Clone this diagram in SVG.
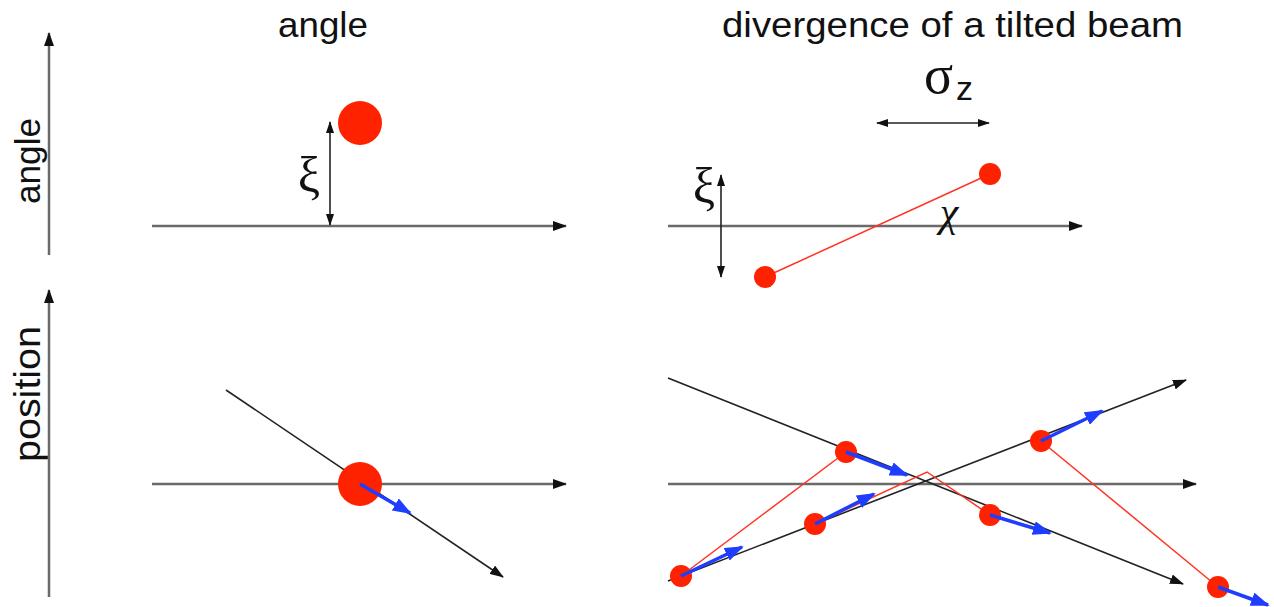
<svg xmlns="http://www.w3.org/2000/svg" width="1274" height="607" viewBox="0 0 1274 607">
<style>
text{font-family:"Liberation Sans",Arial,sans-serif;fill:#111}
.sym{font-family:"Liberation Serif","DejaVu Serif",serif;fill:#111}
.axis{stroke:#6a6a6a;stroke-width:2.5;fill:none}
.ray{stroke:#222;stroke-width:1.6;fill:none}
.dim{stroke:#222;stroke-width:1.6;fill:none}
.red{stroke:#ff3322;stroke-width:1.5;fill:none}
.blue{stroke:#1f3dff;stroke-width:3.5;fill:none}
.dot{fill:#ff2200}
</style>
<defs>
<marker id="ah" viewBox="0 0 14 10" refX="13" refY="5" markerWidth="14" markerHeight="10" markerUnits="userSpaceOnUse" orient="auto-start-reverse"><path d="M0,0 L14,5 L0,10 Z" fill="#111"/></marker>
<marker id="ahs" viewBox="0 0 12 8" refX="11" refY="4" markerWidth="12" markerHeight="8" markerUnits="userSpaceOnUse" orient="auto-start-reverse"><path d="M0,0 L12,4 L0,8 Z" fill="#111"/></marker>
<marker id="ab" viewBox="0 0 19 14" refX="17" refY="7" markerWidth="19" markerHeight="14" markerUnits="userSpaceOnUse" orient="auto"><path d="M0,0 L19,7 L0,14 Z" fill="#1f3dff"/></marker>
</defs>

<g id="labels">
<text x="323" y="37" font-size="35" text-anchor="middle" textLength="90" lengthAdjust="spacingAndGlyphs">angle</text>
<text x="722" y="37" font-size="35" textLength="461" lengthAdjust="spacingAndGlyphs">divergence of a tilted beam</text>
<text transform="translate(40,161) rotate(-90)" font-size="35" text-anchor="middle" textLength="86" lengthAdjust="spacingAndGlyphs">angle</text>
<text transform="translate(40,394) rotate(-90)" font-size="36" text-anchor="middle" textLength="136" lengthAdjust="spacingAndGlyphs">position</text>
</g>

<g id="connectors">
<line class="axis" x1="49" y1="255" x2="49" y2="33" marker-end="url(#ah)"/>
<line class="axis" x1="49" y1="597" x2="49" y2="290" marker-end="url(#ah)"/>
<line class="axis" x1="152" y1="226" x2="566" y2="226" marker-end="url(#ah)"/>
<line class="axis" x1="152" y1="484" x2="566" y2="484" marker-end="url(#ah)"/>
<line class="axis" x1="668" y1="226" x2="1082" y2="226" marker-end="url(#ah)"/>
<line class="axis" x1="668" y1="484" x2="1196" y2="484" marker-end="url(#ah)"/>
<line class="dim" x1="330" y1="225" x2="330" y2="122" marker-start="url(#ahs)" marker-end="url(#ahs)"/>
<line class="dim" x1="721" y1="175" x2="721" y2="277" marker-start="url(#ahs)" marker-end="url(#ahs)"/>
<line class="dim" x1="877" y1="123" x2="989" y2="123" marker-start="url(#ahs)" marker-end="url(#ahs)"/>
<line class="ray" x1="226" y1="390" x2="503" y2="577" marker-end="url(#ah)"/>
<line class="ray" x1="668" y1="378" x2="1183" y2="584" marker-end="url(#ah)"/>
<line class="ray" x1="668" y1="581" x2="1186" y2="380" marker-end="url(#ah)"/>
<line class="red" x1="765" y1="277" x2="990" y2="174"/>
<polyline class="red" points="681,576 846,452"/>
<polyline class="red" points="815,524 927,472 990,515"/>
<polyline class="red" points="1041,441 1218,587"/>
</g>

<g id="symbols">
<text class="sym" x="309" y="192" font-size="50" text-anchor="middle">ξ</text>
<text class="sym" x="704" y="203" font-size="50" text-anchor="middle">ξ</text>
<text class="sym" x="949" y="226" font-size="42" font-style="italic" text-anchor="middle">χ</text>
<text class="sym" x="924" y="93" font-size="54">σ</text>
<text x="956" y="100" font-size="34">z</text>
</g>

<g id="dots">
<circle class="dot" cx="360" cy="123" r="22"/>
<circle class="dot" cx="360" cy="484" r="22"/>
<circle class="dot" cx="765" cy="277" r="11"/>
<circle class="dot" cx="990" cy="174" r="11"/>
<circle class="dot" cx="681" cy="576" r="11"/>
<circle class="dot" cx="815" cy="524" r="11"/>
<circle class="dot" cx="846" cy="452" r="11"/>
<circle class="dot" cx="990" cy="515" r="11"/>
<circle class="dot" cx="1041" cy="441" r="11"/>
<circle class="dot" cx="1218" cy="587" r="11"/>
</g>

<g id="velocities">
<line class="blue" x1="360" y1="484" x2="410" y2="513" marker-end="url(#ab)"/>
<line class="blue" x1="681" y1="576" x2="742" y2="547" marker-end="url(#ab)"/>
<line class="blue" x1="815" y1="524" x2="874" y2="494" marker-end="url(#ab)"/>
<line class="blue" x1="846" y1="452" x2="907" y2="475" marker-end="url(#ab)"/>
<line class="blue" x1="990" y1="515" x2="1050" y2="533" marker-end="url(#ab)"/>
<line class="blue" x1="1041" y1="441" x2="1102" y2="411" marker-end="url(#ab)"/>
<line class="blue" x1="1218" y1="587" x2="1268" y2="605" marker-end="url(#ab)"/>
</g>
</svg>
